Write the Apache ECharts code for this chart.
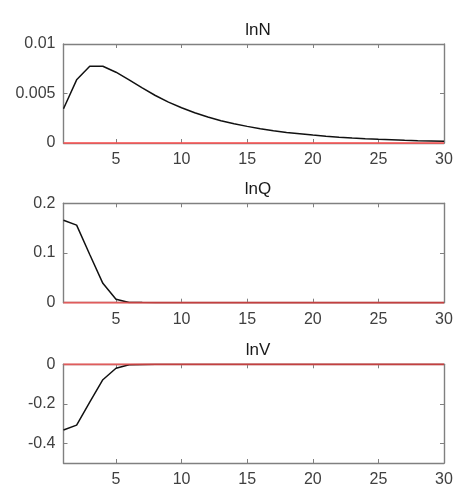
<!DOCTYPE html>
<html>
<head>
<meta charset="utf-8">
<script src="https://cdn.jsdelivr.net/npm/echarts@6/dist/echarts.min.js"></script>
<style>
  html, body { margin: 0; padding: 0; background: #fff; }
  #main { width: 456px; height: 488px; }
</style>
</head>
<body>
<div id="main"></div>
<script>
// periods
var periods = [1,2,3,4,5,6,7,8,9,10,11,12,13,14,15,16,17,18,19,20,21,22,23,24,25,26,27,28,29,30];
var xTicks = [5,10,15,20,25,30];

// impulse responses
var lnN = [0.00346,0.00638,0.00775,0.00775,0.00715,0.00638,0.00557,0.0048,0.00413,0.00356,
           0.00305,0.00262,0.00225,0.00195,0.00168,0.00144,0.00124,0.00107,0.00094,0.0008,
           0.00069,0.00059,0.0005,0.00043,0.00037,0.00032,0.00027,0.00023,0.0002,0.00017];
var lnQ = [0.166,0.156,0.097,0.039,0.0068,0.0005,0.0002,0.0001,0,0,
           0,0,0,0,0,0,0,0,0,0,0,0,0,0,0,0,0,0,0,0];
var lnV = [-0.333,-0.308,-0.192,-0.078,-0.02,-0.002,-0.0005,-0.0002,0,0,
           0,0,0,0,0,0,0,0,0,0,0,0,0,0,0,0,0,0,0,0];
var zeroLine = [0,0,0,0,0,0,0,0,0,0,0,0,0,0,0,0,0,0,0,0,0,0,0,0,0,0,0,0,0,0];

var titles = ['lnN', 'lnQ', 'lnV'];
var yTicks = [[0, 0.005, 0.01], [0, 0.1, 0.2], [-0.4, -0.2, 0]];
var yRange = [[0, 0.01], [0, 0.2], [-0.5, 0]];
var seriesData = [lnN, lnQ, lnV];

var tops = [44, 203.3, 364.3];
var heights = [99, 99.4, 100];

var font = 'Liberation Sans, Arial, sans-serif';
var axisCol = '#808080';
var textCol = '#404040';

function pairs(ys) {
  return periods.map(function (x, i) { return [x, ys[i]]; });
}

var grids = [], xAxes = [], yAxes = [], series = [], titleList = [];
for (var k = 0; k < 3; k++) {
  grids.push({ left: 63.5, right: 12, top: tops[k], height: heights[k], containLabel: false });
  titleList.push({
    text: titles[k], left: 253, top: tops[k] - 27, textAlign: 'center',
    textStyle: { fontFamily: font, fontSize: 17, fontWeight: 'normal', color: '#1a1a1a' }
  });
  // bottom x
  xAxes.push({
    type: 'value', gridIndex: k, min: 1, max: 30, position: 'bottom',
    axisLine: { show: true, onZero: false, lineStyle: { color: axisCol, width: 1.4 } },
    axisTick: { show: true, inside: true, length: 4, customValues: xTicks, lineStyle: { color: axisCol } },
    axisLabel: { customValues: xTicks, color: textCol, fontFamily: font, fontSize: 16, margin: 9 },
    splitLine: { show: false }
  });
  // top x (box)
  xAxes.push({
    type: 'value', gridIndex: k, min: 1, max: 30, position: 'top',
    axisLine: { show: true, onZero: false, lineStyle: { color: axisCol, width: 1.4 } },
    axisTick: { show: true, inside: true, length: 4, customValues: xTicks, lineStyle: { color: axisCol } },
    axisLabel: { show: false },
    splitLine: { show: false }
  });
  // left y
  yAxes.push({
    type: 'value', gridIndex: k, min: yRange[k][0], max: yRange[k][1], position: 'left',
    axisLine: { show: true, onZero: false, lineStyle: { color: axisCol, width: 1.4 } },
    axisTick: { show: true, inside: true, length: 4, customValues: yTicks[k], lineStyle: { color: axisCol } },
    axisLabel: { customValues: yTicks[k], color: textCol, fontFamily: font, fontSize: 16, margin: 8 },
    splitLine: { show: false }
  });
  // right y (box)
  yAxes.push({
    type: 'value', gridIndex: k, min: yRange[k][0], max: yRange[k][1], position: 'right',
    axisLine: { show: true, onZero: false, lineStyle: { color: axisCol, width: 1.4 } },
    axisTick: { show: true, inside: true, length: 4, customValues: yTicks[k], lineStyle: { color: axisCol } },
    axisLabel: { show: false },
    splitLine: { show: false }
  });
  series.push({
    type: 'line', xAxisIndex: 2 * k, yAxisIndex: 2 * k, data: pairs(seriesData[k]),
    showSymbol: false, symbol: 'none', lineStyle: { color: '#111', width: 1.5 }, z: 3
  });
  series.push({
    type: 'line', xAxisIndex: 2 * k, yAxisIndex: 2 * k, data: pairs(zeroLine),
    showSymbol: false, symbol: 'none', lineStyle: { color: '#ff5050', width: 2, opacity: 0.75 }, z: 4
  });
}

var chart = echarts.init(document.getElementById('main'));
chart.setOption({
  animation: false,
  backgroundColor: '#fff',
  title: titleList,
  grid: grids,
  xAxis: xAxes,
  yAxis: yAxes,
  series: series
});
</script>
</body>
</html>
